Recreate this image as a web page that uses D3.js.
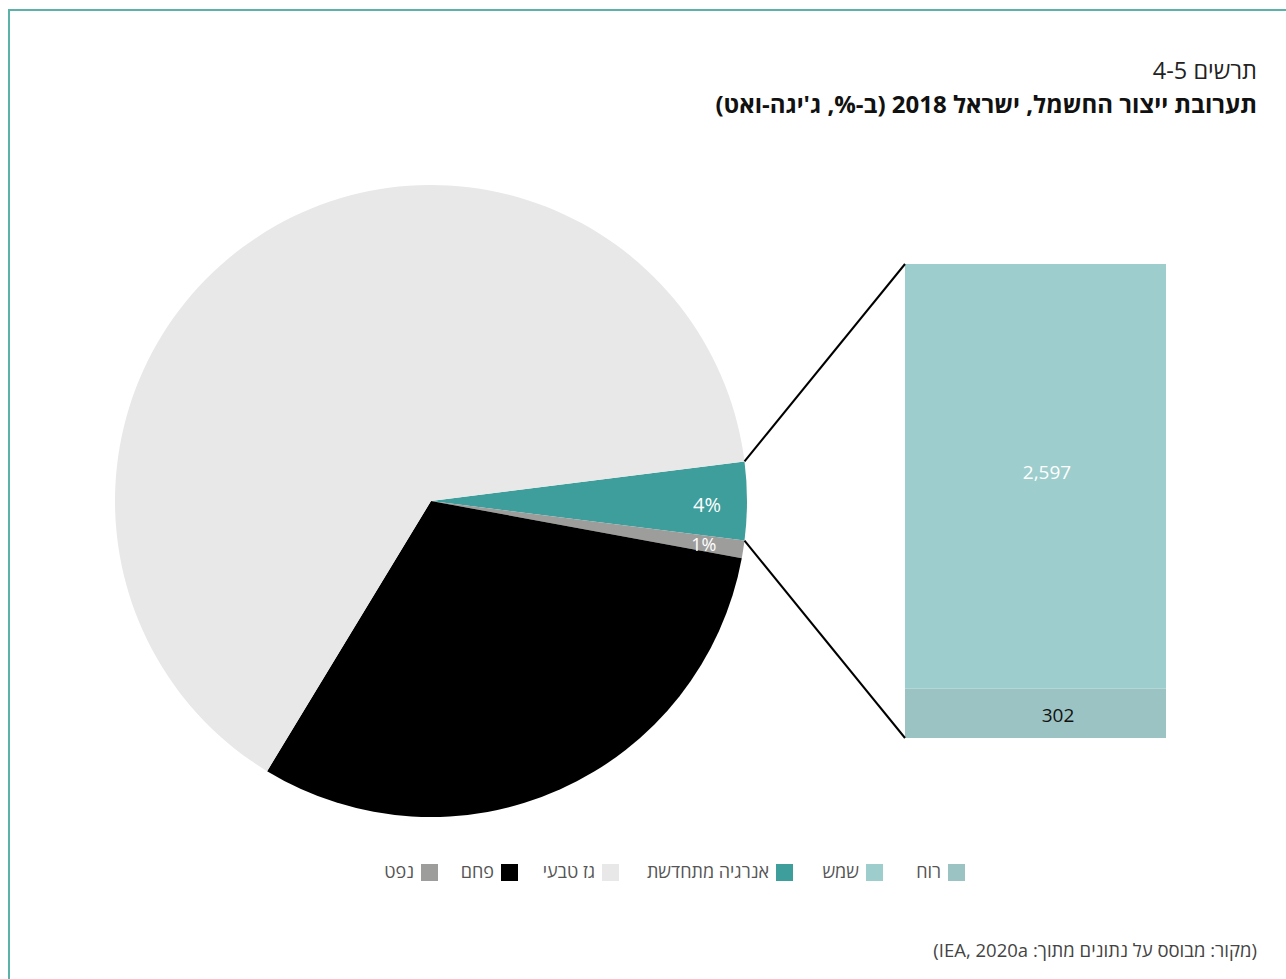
<!DOCTYPE html>
<html><head><meta charset="utf-8">
<script src="https://cdn.jsdelivr.net/npm/d3@7"></script>
<style>
html,body{margin:0;padding:0;background:#fff;}
svg{display:block;font-family:"Open Sans","DejaVu Sans",sans-serif;}
</style></head>
<body>
<svg id="chart" width="1286" height="979"></svg>
<script>
// Pie data (GWh, Israel 2018)
const pieCategories = ["אנרגיה מתחדשת", "נפט", "פחם", "גז טבעי"];
const pieValues = [2899, 650, 22300, 46600];
const pieLabels = ["4%", "1%", "", ""];
// Bar (renewables breakdown, GWh)
const barCategories = ["רוח", "שמש"];
const barValues = [302, 2597];
const barLabels = ["302", "2,597"];
// Legend
const legendItems = ["רוח", "שמש", "אנרגיה מתחדשת", "גז טבעי", "פחם", "נפט"];
const colors = {"רוח":"#9cc3c3","שמש":"#9dcdcc","אנרגיה מתחדשת":"#3d9e9c","גז טבעי":"#e8e8e8","פחם":"#000000","נפט":"#9d9d9c"};

const svg = d3.select("#chart");

// frame
svg.append("path").attr("d","M9,979V10H1286").attr("fill","none").attr("stroke","#5db1ab").attr("stroke-width",2);

// titles
svg.append("text").attr("x",1257).attr("y",79).attr("direction","rtl").attr("text-anchor","start")
  .attr("font-size",23.5).attr("fill","#222").text("תרשים 4-5");
svg.append("text").attr("x",1257).attr("y",113).attr("direction","rtl").attr("text-anchor","start")
  .attr("font-size",24).attr("font-weight","bold").attr("fill","#111").text("תערובת ייצור החשמל, ישראל 2018 (ב-%, ג'יגה-ואט)");

// pie
const cx = 431, cy = 501, R = 316;
const total = d3.sum(pieValues);
const renewAngle = pieValues[0] / total * 2 * Math.PI;
const pie = d3.pie().sort(null).value(d => d)
  .startAngle(Math.PI/2 - renewAngle/2).endAngle(Math.PI/2 - renewAngle/2 + 2*Math.PI);
const arcs = pie(pieValues);
const arc = d3.arc().innerRadius(0).outerRadius(R);
const labelArc = d3.arc().innerRadius(276).outerRadius(276);
const g = svg.append("g").attr("transform",`translate(${cx},${cy})`);
g.selectAll("path.slice").data(arcs).join("path").attr("class","slice")
  .attr("d",arc).attr("fill",(d,i)=>colors[pieCategories[i]]);
g.selectAll("text.pl").data(arcs).join("text").attr("class","pl")
  .attr("transform",d=>`translate(${labelArc.centroid(d)})`)
  .attr("text-anchor","middle").attr("dy",(d,i)=>i===0?"0.55em":"0.45em")
  .attr("font-size",(d,i)=>i===0?20:18).attr("fill","#fff")
  .text((d,i)=>pieLabels[i]);

// bar
const barX = 905, barW = 261, barTop = 264, barBottom = 738;
const y = d3.scaleLinear().domain([0, d3.sum(barValues)]).range([barBottom, barTop]);
const stack = [];
let acc = 0;
barValues.forEach((v,i)=>{ stack.push({c:barCategories[i], v0:acc, v1:acc+v, label:barLabels[i]}); acc+=v; });
svg.selectAll("rect.bar").data(stack).join("rect").attr("class","bar")
  .attr("x",barX).attr("width",barW)
  .attr("y",d=>y(d.v1)).attr("height",d=>y(d.v0)-y(d.v1))
  .attr("fill",d=>colors[d.c]);
const labelDx = [1058, 1047];
const labelDy = [2, -4];
svg.selectAll("text.bl").data(stack).join("text").attr("class","bl")
  .attr("x",(d,i)=>labelDx[i]).attr("y",(d,i)=>(y(d.v0)+y(d.v1))/2 + labelDy[i]).attr("dy","0.36em")
  .attr("text-anchor","middle").attr("font-size",19)
  .attr("fill",(d,i)=>i===0?"#111":"#fff").text(d=>d.label);

// connector lines
const a0 = arcs[0];
const p1 = [cx + R*Math.sin(a0.startAngle), cy - R*Math.cos(a0.startAngle)];
const p2 = [cx + R*Math.sin(a0.endAngle), cy - R*Math.cos(a0.endAngle)];
svg.append("line").attr("x1",p1[0]).attr("y1",p1[1]).attr("x2",barX).attr("y2",y(d3.sum(barValues)))
  .attr("stroke","#000").attr("stroke-width",2);
svg.append("line").attr("x1",p2[0]).attr("y1",p2[1]).attr("x2",barX).attr("y2",y(0))
  .attr("stroke","#000").attr("stroke-width",2);

// legend
const swatchRight = [965, 883, 793, 619, 518, 438];
const lg = svg.append("g");
legendItems.forEach((name,i)=>{
  const xr = swatchRight[i];
  lg.append("rect").attr("x",xr-17).attr("y",864).attr("width",17).attr("height",17).attr("fill",colors[name]);
  lg.append("text").attr("x",xr-24).attr("y",872).attr("dy","0.36em").attr("direction","rtl").attr("text-anchor","start")
    .attr("font-size",18).attr("fill","#555").text(name);
});

// source
svg.append("text").attr("x",1257).attr("y",957).attr("direction","rtl").attr("text-anchor","start")
  .attr("font-size",18.5).attr("fill","#444").text("(מקור: מבוסס על נתונים מתוך: IEA, 2020a)");
</script>
</body></html>
